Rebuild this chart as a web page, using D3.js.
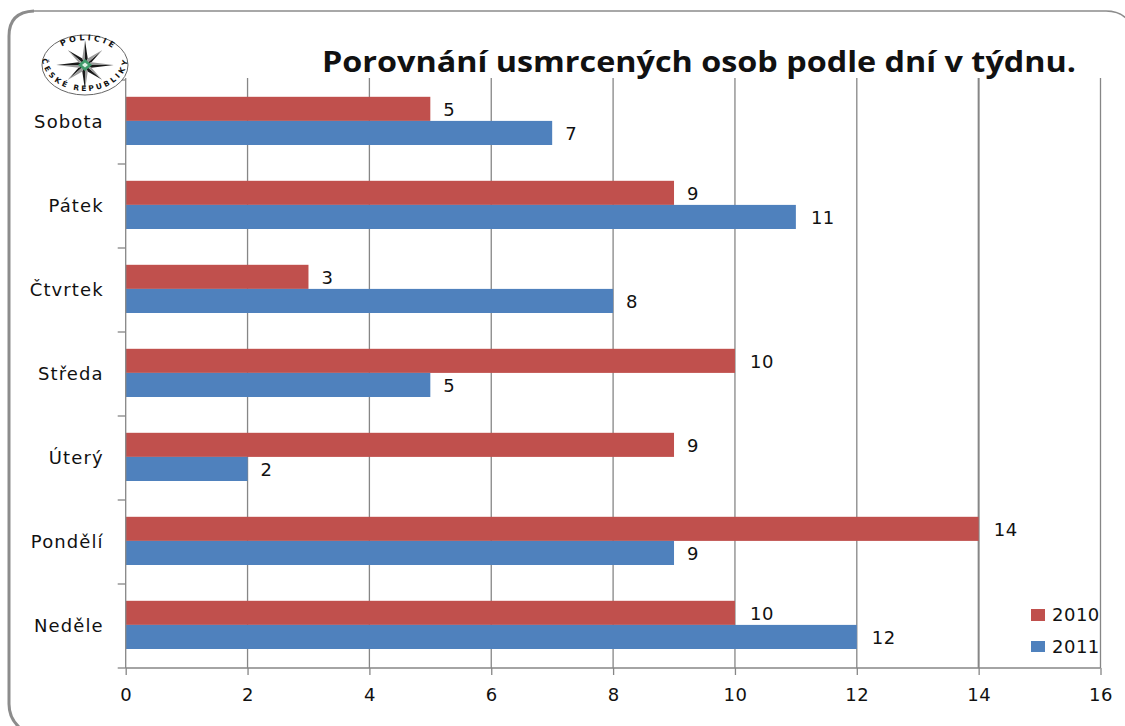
<!DOCTYPE html>
<html><head><meta charset="utf-8">
<script src="https://cdnjs.cloudflare.com/ajax/libs/d3/7.8.5/d3.min.js"></script>
<style>html,body{margin:0;padding:0;background:#fff;overflow:hidden}svg{display:block}text{font-family:"DejaVu Sans",sans-serif;fill:#111}</style>
</head><body><svg id="c" width="1125" height="726"></svg>
<script>
const titleText = "Porovnání usmrcených osob podle dní v týdnu.";
const categories = ["Neděle","Pondělí","Úterý","Středa","Čtvrtek","Pátek","Sobota"];
const values2010 = [10,14,9,10,3,9,5];
const values2011 = [12,9,2,5,8,11,7];
const xTicks = [0,2,4,6,8,10,12,14,16];
const seriesNames = ["2010","2011"];
const colors = ["#c0504d","#4f81bd"];

const svg = d3.select("#c");
const G = "#868686";
// frame
svg.append("path").attr("d","M19,727 Q9,718 9,704 V36 Q9,12 34,11").attr("fill","none").attr("stroke","#8c8c8c").attr("stroke-width",3);
svg.append("path").attr("d","M34,11 H1106 Q1118,11 1126,18").attr("fill","none").attr("stroke","#8c8c8c").attr("stroke-width",1.6);

const x = d3.scaleLinear().domain([0,16]).range([125.7,1100.5]);
const y = d3.scaleBand().domain(categories).range([668,80]);
const inner = d3.scaleBand().domain([0,1]).range([16.8,65]);

// gridlines
svg.append("g").selectAll("line").data(xTicks.slice(1)).join("line")
 .attr("x1",d=>x(d)).attr("x2",d=>x(d)).attr("y1",78).attr("y2",668)
 .attr("stroke",G).attr("stroke-width",d=>d===14?2:1.3);

// bars
const rows = categories.map((c,i)=>({c,v:[values2010[i],values2011[i]]}));
const g = svg.append("g").selectAll("g").data(rows).join("g").attr("transform",d=>`translate(0,${y(d.c)})`);
[0,1].forEach(s=>{
  g.append("rect").attr("x",x(0)).attr("y",inner(s)).attr("height",inner.bandwidth()).attr("width",d=>x(d.v[s])-x(0)).attr("fill",colors[s]);
  g.append("text").attr("x",d=>x(d.v[s])+(d.v[s]>=10?27:19)).attr("y",inner(s)+inner.bandwidth()/2+1).attr("dy","0.35em")
   .attr("text-anchor","middle").attr("font-size",18).attr("letter-spacing",0.5).text(d=>d.v[s]);
});

// axes
const xAxis = d3.axisBottom(x).tickValues(xTicks).tickSize(7).tickPadding(13).tickFormat(d3.format("d"));
const ax = svg.append("g").attr("transform","translate(0,668)").call(xAxis);
ax.select(".domain").attr("d",`M${x(0)},0H${x(16)}`).attr("stroke",G).attr("stroke-width",1.3);
ax.selectAll("line").attr("stroke",G).attr("stroke-width",1.3);
ax.selectAll("text").attr("font-size",18).attr("font-family","DejaVu Sans").attr("fill","#111").attr("letter-spacing",0.5);

const yAxis = d3.axisLeft(y).tickSize(0).tickPadding(22);
const ay = svg.append("g").attr("transform",`translate(${x(0)},0)`).call(yAxis);
ay.select(".domain").attr("d","M0,78V668").attr("stroke",G).attr("stroke-width",1.3);
ay.selectAll("text").attr("font-size",18).attr("font-family","DejaVu Sans").attr("fill","#111").attr("letter-spacing",1.1);
const bounds = y.domain().map(c=>y(c)+y.bandwidth()).concat([y(categories[6])]);
svg.append("g").selectAll("line").data(bounds).join("line")
 .attr("x1",x(0)-8).attr("x2",x(0)).attr("y1",d=>d).attr("y2",d=>d).attr("stroke",G).attr("stroke-width",1.3);

// title
svg.append("text").attr("x",322).attr("y",72).attr("font-size",29).attr("font-weight",700).attr("textLength",754).attr("lengthAdjust","spacingAndGlyphs").style("font-family","'Open Sans',sans-serif").text(titleText);

// legend
const lg = svg.append("g").selectAll("g").data(seriesNames).join("g").attr("transform",(d,i)=>`translate(1031,${615+i*32})`);
lg.append("rect").attr("y",-6).attr("width",14).attr("height",(d,i)=>i?11:12).attr("fill",(d,i)=>colors[i]);
lg.append("text").attr("x",21).attr("y",0).attr("dy","0.35em").attr("font-size",18).attr("letter-spacing",0.5).text(d=>d);

// emblem
const logo = svg.append("g").attr("transform","translate(85,65)");
logo.append("ellipse").attr("rx",43).attr("ry",30).attr("fill","#fff").attr("stroke","#666").attr("stroke-width",1);
const pts = d3.range(8).map(i=>i*Math.PI/4);
const tip=(a)=>{const odd=Math.round(a/(Math.PI/4))%2; const r=odd?21:25; return [Math.sin(a)*r*1.15,-Math.cos(a)*r];};
const side=(a,d)=>[Math.sin(a+d*0.4)*7,-Math.cos(a+d*0.4)*7];
logo.selectAll("path.d").data(pts).join("path").attr("d",a=>"M0,0L"+tip(a)+"L"+side(a,1)+"Z").attr("fill","#1a1a1a");
logo.selectAll("path.l").data(pts).join("path").attr("d",a=>"M0,0L"+tip(a)+"L"+side(a,-1)+"Z").attr("fill","#9a9a9a");
logo.append("path").attr("d","M0,-6L7,0L0,6L-7,0Z").attr("fill","#3f9a6b");
logo.append("path").attr("d","M0,-2.5L3,0L0,2.5L-3,0Z").attr("fill","#dff0e6");
const arcs = logo.append("defs");
arcs.append("path").attr("id","arcT").attr("d","M-32,-9 A35,23 0 0 1 36,-4");
arcs.append("path").attr("id","arcB").attr("d","M-37,-8 A37,28 0 0 0 37,-8");
logo.append("text").attr("font-size",8).attr("font-weight",700).attr("letter-spacing",3).append("textPath").attr("href","#arcT").attr("startOffset","50%").attr("text-anchor","middle").text("POLICIE");
logo.append("text").attr("font-size",7.5).attr("font-weight",700).attr("letter-spacing",1.6).attr("dy",6).append("textPath").attr("href","#arcB").attr("startOffset","50%").attr("text-anchor","middle").text("ČESKÉ REPUBLIKY");
</script></body></html>
